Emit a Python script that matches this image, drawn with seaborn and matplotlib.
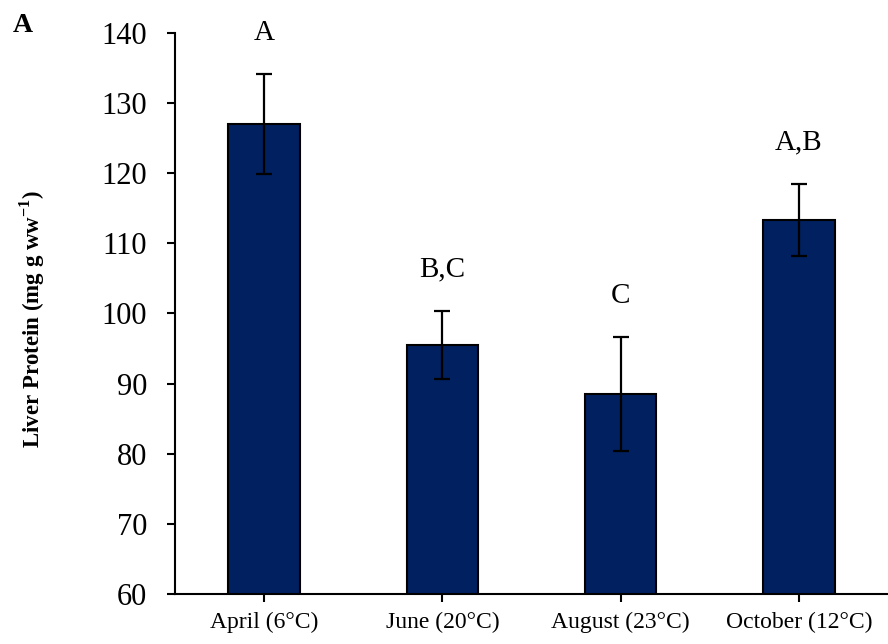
import matplotlib
matplotlib.use("Agg")
import matplotlib.pyplot as plt
import seaborn as sns
import pandas as pd

months = ["April (6°C)", "June (20°C)", "August (23°C)", "October (12°C)"]
protein = [127.0, 95.5, 88.5, 113.3]
sem = [7.1, 4.9, 8.1, 5.1]
groups = ["A", "B,C", "C", "A,B"]

sns.set_theme(style="ticks")
plt.rcParams["font.family"] = ["Liberation Serif", "DejaVu Serif"]
plt.rcParams["mathtext.fontset"] = "custom"
plt.rcParams["mathtext.rm"] = "Liberation Serif"
plt.rcParams["mathtext.bf"] = "Liberation Serif:bold"
for key in ("text.color", "axes.labelcolor", "xtick.color", "ytick.color",
            "axes.edgecolor"):
    plt.rcParams[key] = "black"

df = pd.DataFrame({"month": months, "protein": protein})

fig = plt.figure(figsize=(8.88, 6.44), dpi=100)
ax = fig.add_axes([0.197, 0.0776, 0.803, 0.8712])

sns.barplot(data=df, x="month", y="protein", color="#002060", saturation=1,
            width=0.4, edgecolor="black", linewidth=1.5, ax=ax)
ax.errorbar(range(len(months)), protein, yerr=sem, fmt="none",
            ecolor="black", elinewidth=1.6, capsize=6, capthick=1.6)

for i, (m, e, g) in enumerate(zip(protein, sem, groups)):
    ax.annotate(g, xy=(i, m + e), xytext=(0, 30), textcoords="offset points",
                ha="center", va="center", fontsize=21)

ax.set_ylim(60, 140)
ax.set_yticks(range(60, 141, 10))
ax.set_xlim(-0.5, 3.5)
ax.set_xlabel("")
ax.set_ylabel(r"Liver Protein (mg g ww$^{\mathbf{-1}}$)", fontsize=16.5,
              fontweight="bold")
ax.yaxis.set_label_coords(-0.18, 0.49)
ax.tick_params(axis="y", labelsize=22, length=6, width=1.5, direction="out", pad=14)
ax.tick_params(axis="x", labelsize=17, length=6, width=1.5, direction="out", pad=7)
for s in ("top", "right"):
    ax.spines[s].set_visible(False)
for s in ("left", "bottom"):
    ax.spines[s].set_linewidth(1.5)

fig.text(0.014, 0.96, "A", fontsize=20, fontweight="bold", va="center")

fig.savefig("out.png", dpi=100)
